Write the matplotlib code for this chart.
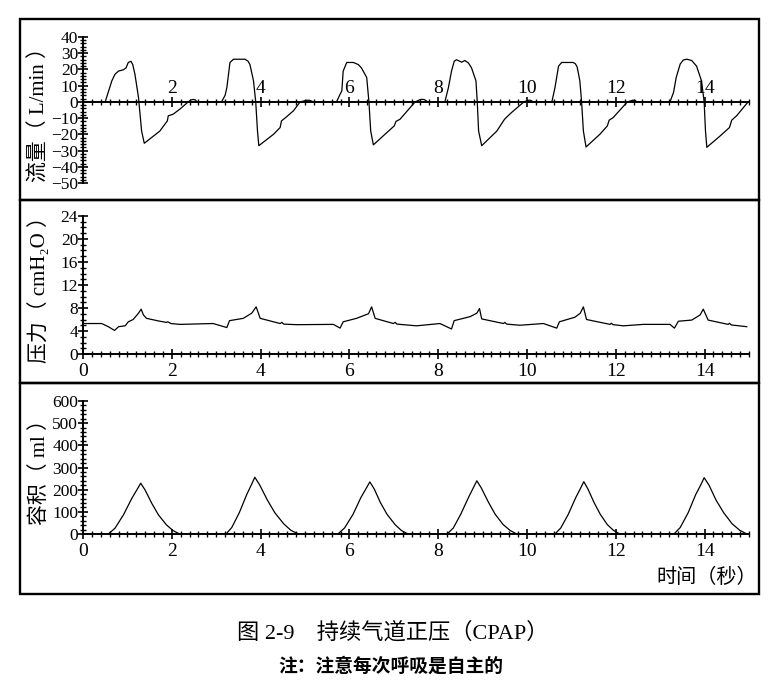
import numpy as np
import matplotlib
matplotlib.use("Agg")
import matplotlib.pyplot as plt
from matplotlib.ticker import MultipleLocator
from matplotlib.patches import Rectangle

plt.rcParams['font.family'] = ['Liberation Serif', 'DejaVu Serif', 'Noto Sans CJK SC']

W, H = 774, 697

# flow (L/min) vs time (s)
flow_t = [0.00, 0.50, 0.58, 0.65, 0.72, 0.80, 0.91, 0.97, 1.02, 1.08, 1.12, 1.17, 1.25, 1.32, 1.38,
          1.73, 1.90, 1.92, 2.03, 2.18, 2.37, 2.43, 2.48, 2.53, 2.57,
          3.12, 3.20, 3.24, 3.31, 3.39, 3.65, 3.72, 3.76, 3.84, 3.89, 3.93, 3.96,
          4.29, 4.44, 4.47, 4.55, 4.74, 4.89, 5.04, 5.10, 5.19,
          5.71, 5.79, 5.83, 5.86, 5.94, 6.09, 6.20, 6.27, 6.39, 6.44, 6.48, 6.54,
          6.84, 7.01, 7.05, 7.14, 7.48, 7.60, 7.68, 7.77,
          8.15, 8.23, 8.30, 8.36, 8.41, 8.53, 8.60, 8.68, 8.75, 8.85, 8.88, 8.91, 8.98,
          9.32, 9.47, 9.50, 9.65, 9.93, 10.03, 10.08, 10.14,
          10.56, 10.63, 10.71, 10.78, 11.04, 11.09, 11.13, 11.19, 11.23, 11.27, 11.33,
          11.64, 11.81, 11.85, 11.94, 12.26, 12.38, 12.43, 12.48,
          13.22, 13.30, 13.36, 13.45, 13.52, 13.60, 13.71, 13.82, 13.93, 13.99, 14.02, 14.05,
          14.35, 14.56, 14.61, 14.72, 14.98]
flow_v = [0, 0, 7, 13, 17, 19, 19.8, 21, 24.3, 25, 23, 17, 2.7, -18, -25.5,
          -18, -11.7, -8.6, -7.6, -4.5, 0, 1.2, 1.5, 1.2, 0,
          0, 4, 8.8, 24.3, 26.3, 26.3, 25, 23, 13, 0, -18, -27,
          -20, -15.8, -11.7, -10, -5.5, 0, 1, 1, 0,
          0, 4.7, 6.8, 19, 24.3, 24.3, 23, 21, 15, 0, -18, -26.5,
          -19, -14.8, -12, -10.7, 0, 1.5, 1.5, 0,
          0, 8.8, 19, 25, 26, 24.5, 25.5, 24, 21, 13, 0, -18, -27,
          -18, -11.7, -10.5, -6.6, 0, 1, 1, 0,
          0, 8.8, 22, 24.3, 24.3, 23.5, 21.5, 13, 0, -18, -27.8,
          -20, -14.8, -11.3, -9.7, 0, 1, 1, 0,
          0, 5.8, 15, 23.3, 25.8, 26.3, 25.5, 22, 13, 0, -18, -28,
          -21, -15.8, -11.3, -8.6, 0]

# airway pressure (cmH2O)
pres_t = [0.00, 0.42, 0.57, 0.71, 0.80, 0.95, 1.02, 1.13, 1.25, 1.31, 1.36, 1.43, 1.73, 1.88, 1.91, 1.98, 2.18, 2.93,
          3.24, 3.30, 3.61, 3.80, 3.90, 3.99, 4.44, 4.48, 4.52, 4.81, 5.64,
          5.79, 5.86, 6.16, 6.43, 6.50, 6.58, 6.99, 7.03, 7.07, 7.51, 8.04,
          8.30, 8.36, 8.72, 8.87, 8.93, 8.98, 9.47, 9.50, 9.54, 9.84, 10.37,
          10.67, 10.73, 11.08, 11.20, 11.27, 11.34, 11.87, 11.90, 11.94, 12.17, 12.62, 13.22,
          13.32, 13.41, 13.71, 13.90, 13.97, 14.08, 14.53, 14.56, 14.60, 14.95]
pres_v = [5.3, 5.3, 4.75, 4.1, 4.75, 4.9, 5.6, 6.0, 7.1, 7.8, 6.8, 6.2, 5.7, 5.5, 5.6, 5.3, 5.15, 5.3,
          4.6, 5.8, 6.2, 7.1, 8.2, 6.2, 5.3, 5.5, 5.2, 5.1, 5.15,
          4.5, 5.6, 6.2, 7.0, 8.2, 6.2, 5.3, 5.5, 5.2, 4.9, 5.3,
          4.35, 5.8, 6.5, 7.1, 7.9, 6.1, 5.3, 5.5, 5.2, 5.0, 5.3,
          4.5, 5.6, 6.4, 7.1, 8.2, 6.0, 5.15, 5.35, 5.1, 4.9, 5.15, 5.15,
          4.5, 5.7, 5.9, 6.8, 7.8, 5.9, 5.15, 5.35, 5.05, 4.75]

# tidal volume (ml)
vol_t = [0.00, 0.57, 0.72, 0.91, 1.10, 1.21, 1.30, 1.40, 1.55, 1.70, 1.88, 2.03, 2.18,
         3.22, 3.35, 3.52, 3.69, 3.79, 3.87, 3.98, 4.15, 4.32, 4.52, 4.68, 4.85,
         5.74, 5.89, 6.08, 6.26, 6.37, 6.46, 6.56, 6.70, 6.85, 7.03, 7.17, 7.32,
         8.20, 8.34, 8.51, 8.69, 8.79, 8.87, 8.97, 9.13, 9.28, 9.46, 9.62, 9.77,
         10.63, 10.76, 10.93, 11.10, 11.20, 11.28, 11.37, 11.51, 11.65, 11.81, 11.95, 12.09,
         13.31, 13.45, 13.63, 13.80, 13.91, 13.99, 14.10, 14.26, 14.43, 14.62, 14.79, 14.95]
vol_v = [0, 0, 26, 86, 161, 198, 229, 198, 138, 86, 41, 15, 0,
         0, 29, 96, 179, 221, 256, 221, 154, 96, 46, 17, 0,
         0, 27, 88, 165, 203, 235, 203, 141, 88, 42, 16, 0,
         0, 27, 90, 168, 208, 240, 208, 144, 90, 43, 16, 0,
         0, 27, 89, 165, 204, 236, 204, 142, 89, 42, 16, 0,
         0, 29, 96, 178, 220, 254, 220, 152, 96, 46, 17, 0]

flow_ticks = np.arange(-50, 41, 10)
pres_ticks = np.arange(0, 25, 4)
vol_ticks = np.arange(0, 601, 100)
time_ticks = np.arange(0, 15, 2)


def fx(px):
    return px / W


def fy(py):
    return 1 - py / H


def make_axes(fig, top, bottom, ylim):
    ax = fig.add_axes([fx(83), fy(bottom), fx(749) - fx(83), fy(top) - fy(bottom)])
    ax.set_xlim(0, 15)
    ax.set_ylim(*ylim)
    ax.patch.set_visible(False)
    ax.spines['right'].set_visible(False)
    for s in ax.spines.values():
        s.set_linewidth(1.4)
    ax.xaxis.set_minor_locator(MultipleLocator(0.2))
    ax.tick_params(axis='both', which='major', direction='inout', length=7, width=1.2)
    ax.tick_params(axis='both', which='minor', direction='inout', length=5, width=1.0)
    ax.tick_params(axis='y', labelsize=12.5, pad=0)
    ax.tick_params(axis='x', labelsize=14)
    return ax


def set_ylabel(ax, text):
    ax.set_ylabel(text, fontsize=15)
    ax.yaxis.set_label_coords(-0.05, 0.5)


fig = plt.figure(figsize=(W / 100, H / 100), dpi=100)

# outer frame with three boxes
for top, bottom in [(19, 200), (200, 383), (383, 594)]:
    fig.add_artist(Rectangle((fx(20), fy(bottom)), fx(759) - fx(20), fy(top) - fy(bottom),
                             transform=fig.transFigure, fill=False, lw=1.7, ec='black'))

# flow panel
ax1 = make_axes(fig, 37, 183, (-50, 40))
ax1.plot(flow_t, flow_v, color='black', lw=0.9)
ax1.spines['bottom'].set_visible(False)
ax1.spines['top'].set_position(('data', 0))
ax1.xaxis.set_ticks_position('top')
ax1.set_xticks(time_ticks[1:])
ax1.tick_params(axis='x', which='both', labeltop=True, labelbottom=False, pad=0)
ax1.set_yticks(flow_ticks)
ax1.yaxis.set_minor_locator(MultipleLocator(2))
set_ylabel(ax1, '流量（ L/min ）')

# pressure panel
ax2 = make_axes(fig, 216, 354, (0, 24))
ax2.plot(pres_t, pres_v, color='black', lw=0.9)
ax2.spines['top'].set_visible(False)
ax2.set_xticks(time_ticks)
ax2.set_yticks(pres_ticks)
ax2.yaxis.set_minor_locator(MultipleLocator(1))
ax2.tick_params(axis='x', pad=3)
set_ylabel(ax2, '压力（ cmH\u2082O ）')

# volume panel
ax3 = make_axes(fig, 401, 534, (0, 600))
ax3.plot(vol_t, vol_v, color='black', lw=0.9)
ax3.spines['top'].set_visible(False)
ax3.set_xticks(time_ticks)
ax3.set_yticks(vol_ticks)
ax3.yaxis.set_minor_locator(MultipleLocator(20))
ax3.tick_params(axis='x', pad=3)
set_ylabel(ax3, '容积（ ml ）')

fig.text(fx(757), fy(578), '时间（秒）', fontsize=14.5, ha='right', va='center')

fig.text(fx(393), fy(633), '图 2-9\u3000持续气道正压（CPAP）', fontsize=16, ha='center', va='center')
fig.text(fx(391), fy(666), '注：注意每次呼吸是自主的', fontsize=13.5, ha='center', va='center',
         family=['Noto Sans CJK SC'], weight='bold')

fig.savefig('out.png', dpi=100)
